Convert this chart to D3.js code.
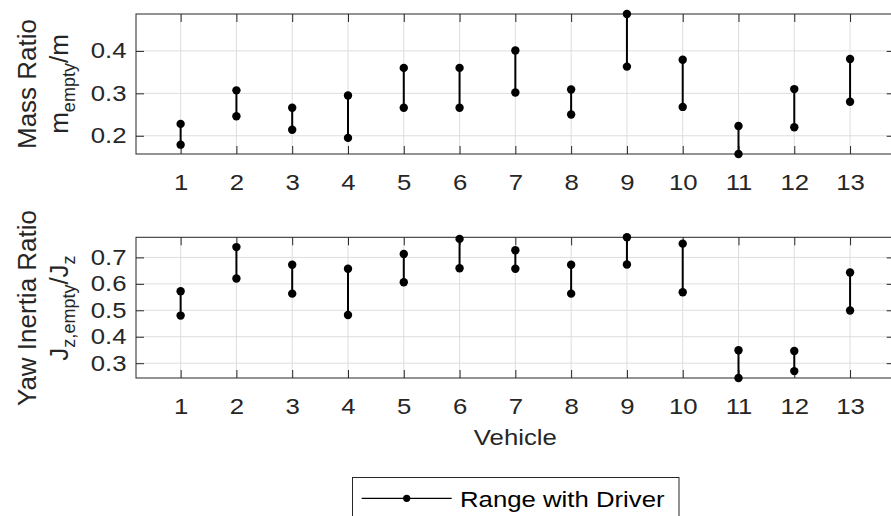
<!DOCTYPE html>
<html>
<head>
<meta charset="utf-8">
<script src="https://cdn.jsdelivr.net/npm/d3@7"></script>
<style>
  html, body { margin: 0; padding: 0; background: #fff; }
  svg { display: block; font-family: "Liberation Sans", Arial, sans-serif; }
</style>
</head>
<body>
<svg id="chart" width="891" height="516"></svg>
<script>
// ---- data ----
const vehicles = [1, 2, 3, 4, 5, 6, 7, 8, 9, 10, 11, 12, 13];
const massLow  = [0.179, 0.246, 0.214, 0.195, 0.266, 0.266, 0.302, 0.250, 0.363, 0.268, 0.157, 0.220, 0.280];
const massHigh = [0.228, 0.307, 0.266, 0.295, 0.360, 0.360, 0.401, 0.309, 0.487, 0.379, 0.223, 0.310, 0.381];
const yawLow   = [0.480, 0.620, 0.563, 0.482, 0.606, 0.659, 0.657, 0.563, 0.673, 0.568, 0.244, 0.270, 0.499];
const yawHigh  = [0.572, 0.739, 0.672, 0.657, 0.713, 0.770, 0.727, 0.672, 0.776, 0.752, 0.349, 0.346, 0.643];
const xTicks = [1, 2, 3, 4, 5, 6, 7, 8, 9, 10, 11, 12, 13];
const massTicks = [0.2, 0.3, 0.4];
const yawTicks = [0.3, 0.4, 0.5, 0.6, 0.7];
const xLimits = [0.2, 13.8];
const legendLabel = "Range with Driver";
const xLabel = "Vehicle";

// ---- layout ----
const svg = d3.select("#chart");
const TXT = "#262626";
const SX = 1.17;          // horizontal stretch of the reference's text
const left = 136, right = 894.7;
const x = d3.scaleLinear().domain(xLimits).range([left, right]);

function stretch(sel, sx) {
  sel.each(function () {
    const t = d3.select(this);
    const ax = +t.attr("x") || 0;
    t.attr("transform", `translate(${ax},0) scale(${sx},1) translate(${-ax},0)`);
  });
}

function panel(top, bottom, lows, highs, ticks) {
  const all = lows.concat(highs);
  const y = d3.scaleLinear().domain(d3.extent(all)).range([bottom, top]);
  const g = svg.append("g");

  // grid
  g.selectAll(".gx").data(xTicks).join("line")
    .attr("x1", d => x(d)).attr("x2", d => x(d))
    .attr("y1", top).attr("y2", bottom)
    .attr("stroke", "#dedede").attr("stroke-width", 1);
  g.selectAll(".gy").data(ticks).join("line")
    .attr("x1", left).attr("x2", right)
    .attr("y1", d => y(d)).attr("y2", d => y(d))
    .attr("stroke", "#dedede").attr("stroke-width", 1);

  // axes
  const styleAxis = a => {
    a.select(".domain").remove();
    a.selectAll(".tick line").attr("stroke", TXT).attr("stroke-width", 1);
    a.selectAll(".tick text").attr("fill", TXT).style("font-size", "22px");
  };
  const xb = g.append("g").attr("transform", `translate(0,${bottom})`)
    .call(d3.axisBottom(x).tickValues(xTicks).tickSize(-8).tickPadding(20).tickFormat(d3.format("d")));
  styleAxis(xb); stretch(xb.selectAll(".tick text"), SX);
  const xt = g.append("g").attr("transform", `translate(0,${top})`)
    .call(d3.axisTop(x).tickValues(xTicks).tickSize(-8).tickFormat(""));
  styleAxis(xt);
  const yl = g.append("g").attr("transform", `translate(${left},0)`)
    .call(d3.axisLeft(y).tickValues(ticks).tickSize(-8).tickPadding(9.5).tickFormat(d3.format(".1f")));
  styleAxis(yl); stretch(yl.selectAll(".tick text"), SX);
  const yr = g.append("g").attr("transform", `translate(${right},0)`)
    .call(d3.axisRight(y).tickValues(ticks).tickSize(-8).tickFormat(""));
  styleAxis(yr);

  // box
  g.append("rect").attr("x", left).attr("y", top)
    .attr("width", right - left).attr("height", bottom - top)
    .attr("fill", "none").attr("stroke", TXT).attr("stroke-width", 1);

  // ranges
  const rows = vehicles.map((v, i) => ({ v, lo: lows[i], hi: highs[i] }));
  g.selectAll(".rng").data(rows).join("line")
    .attr("x1", d => x(d.v)).attr("x2", d => x(d.v))
    .attr("y1", d => y(d.lo)).attr("y2", d => y(d.hi))
    .attr("stroke", "#000").attr("stroke-width", 2);
  const pts = rows.flatMap(d => [{ v: d.v, val: d.lo }, { v: d.v, val: d.hi }]);
  g.selectAll(".pt").data(pts).join("circle")
    .attr("cx", d => x(d.v)).attr("cy", d => y(d.val)).attr("r", 4.2)
    .attr("fill", "#000");
  return y;
}

panel(14, 154, massLow, massHigh, massTicks);
panel(237.3, 378, yawLow, yawHigh, yawTicks);

// y labels (rotated)
function ylabel(cy, line1, parts) {
  const t1 = svg.append("text")
    .attr("transform", `translate(36,${cy}) rotate(-90)`)
    .attr("text-anchor", "middle").attr("fill", TXT)
    .style("font-size", "26px").text(line1);
  const t2 = svg.append("text")
    .attr("transform", `translate(68,${cy}) rotate(-90)`)
    .attr("text-anchor", "middle").attr("fill", TXT)
    .style("font-size", "26px");
  parts.forEach(p => {
    t2.append("tspan")
      .attr("dy", p.dy || 0)
      .style("font-size", p.sub ? "18px" : "26px")
      .text(p.t);
  });
}
ylabel(84, "Mass Ratio", [
  { t: "m" }, { t: "empty", sub: true, dy: 7 }, { t: "/m", dy: -7 }
]);
ylabel(308, "Yaw Inertia Ratio", [
  { t: "J" }, { t: "z,empty", sub: true, dy: 7 }, { t: "/J", dy: -7 }, { t: "z", sub: true, dy: 7 }
]);

// x label
const xl = svg.append("text").attr("x", (left + right) / 2).attr("y", 445)
  .attr("text-anchor", "middle").attr("fill", TXT)
  .style("font-size", "22px").text(xLabel);
stretch(xl, SX);

// legend
const lg = svg.append("g");
lg.append("rect").attr("x", 352.5).attr("y", 477.5).attr("width", 326.5).attr("height", 60)
  .attr("fill", "#fff").attr("stroke", TXT).attr("stroke-width", 1);
lg.append("line").attr("x1", 361.7).attr("x2", 451.7).attr("y1", 498.3).attr("y2", 498.3)
  .attr("stroke", "#000").attr("stroke-width", 1.2);
lg.append("circle").attr("cx", 406.7).attr("cy", 498.3).attr("r", 3.6).attr("fill", "#000");
const lt = lg.append("text").attr("x", 460).attr("y", 507)
  .attr("fill", "#000").style("font-size", "22px").text(legendLabel);
stretch(lt, SX);
</script>
</body>
</html>
